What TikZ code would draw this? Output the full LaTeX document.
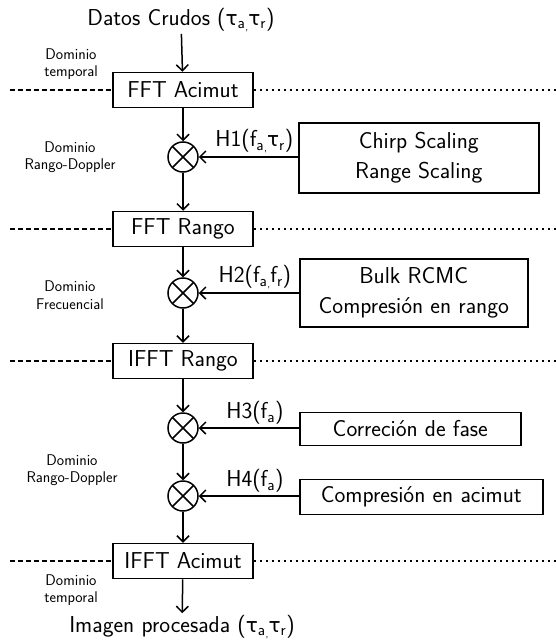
\documentclass[tikz,border=0pt]{standalone}
\usepackage{fontspec}
\newfontfamily\grk{DejaVu Sans}
\usetikzlibrary{arrows.meta}

% upright tau and small subscripts for the signal variables
\newcommand{\ta}{{\grk\fontsize{20}{22}\selectfont τ}}
\newcommand{\sbs}[1]{\textsubscript{#1}}
\newcommand{\cm}{\raisebox{-0.55ex}{\fontsize{11}{11}\selectfont ,}}

\begin{document}
\begin{tikzpicture}[x=1pt,y=-1pt,
  font=\sffamily\fontsize{23}{27}\selectfont,
  line width=1.5pt,
  >={Straight Barb[length=6pt,width=12pt]},
  blk/.style={draw,minimum width=140pt,minimum height=35pt,inner sep=0pt},
  opbox/.style={draw,anchor=west,align=center,inner sep=0pt},
  mult/.style={circle,draw,minimum size=30pt,inner sep=0pt,
    path picture={
      \draw (path picture bounding box.north west) -- (path picture bounding box.south east)
            (path picture bounding box.north east) -- (path picture bounding box.south west);}},
  dom/.style={align=center,font=\sffamily\fontsize{15.5}{17.5}\selectfont},
  lbl/.style={above,inner sep=3pt},
  leftsep/.style={line width=1.3pt,dash pattern=on 5pt off 3pt},
  rightsep/.style={line width=1.3pt,dash pattern=on 2.5pt off 3.5pt}
]
\useasboundingbox (0,0) rectangle (556,642);

% input and output
\node[inner sep=1pt] (in)  at (181,20)  {Datos Crudos (\ta\sbs{a}\cm\ta\sbs{r})};
\node[inner sep=1pt] (out) at (182,627) {Imagen procesada (\ta\sbs{a}\cm\ta\sbs{r})};

% transform blocks on the main chain
\node[blk] (fa)  at (183,90)  {FFT Acimut};
\node[blk] (fr)  at (183,229) {FFT Rango};
\node[blk] (ir)  at (183,361) {IFFT Rango};
\node[blk] (ia)  at (183,561) {IFFT Acimut};

% multipliers
\node[mult] (m1) at (183,157) {};
\node[mult] (m2) at (183,293) {};
\node[mult] (m3) at (183,428) {};
\node[mult] (m4) at (183,496) {};

% operations feeding the multipliers
\node[opbox,minimum width=240pt,minimum height=70pt] (h1) at (298,158)
  {Chirp Scaling\\[3pt]Range Scaling};
\node[opbox,minimum width=228pt,minimum height=68pt] (h2) at (299,293)
  {Bulk RCMC\\[3pt]Compresión en rango};
\node[opbox,minimum width=221pt,minimum height=33pt] (h3) at (299,429)
  {Correción de fase};
\node[opbox,minimum width=243pt,minimum height=35pt] (h4) at (299,497)
  {Compresión en acimut};

% main signal path
\draw[->] (in) -- (fa);
\draw[->] (fa) -- (m1);
\draw[->] (m1) -- (fr);
\draw[->] (fr) -- (m2);
\draw[->] (m2) -- (ir);
\draw[->] (ir) -- (m3);
\draw[->] (m3) -- (m4);
\draw[->] (m4) -- (ia);
\draw[->] (ia) -- (out);

% filter inputs
\draw[->] (m1 -| h1.west) -- node[lbl,pos=0.44] {H1(f\sbs{a}\cm\ta\sbs{r})} (m1);
\draw[->] (m2 -| h2.west) -- node[lbl,pos=0.44] {H2(f\sbs{a}\cm f\sbs{r})} (m2);
\draw[->] (m3 -| h3.west) -- node[lbl,pos=0.44] {H3(f\sbs{a})} (m3);
\draw[->] (m4 -| h4.west) -- node[lbl,pos=0.44] {H4(f\sbs{a})} (m4);

% domain boundaries
\coordinate (l1) at (10,90);   \coordinate (r1) at (556,90);
\coordinate (l2) at (10,229);  \coordinate (r2) at (556,229);
\coordinate (l3) at (10,361);  \coordinate (r3) at (556,361);
\coordinate (l4) at (10,561);  \coordinate (r4) at (556,561);
\draw[leftsep] (l1) -- (fa.west);  \draw[rightsep] (fa.east) -- (r1);
\draw[leftsep] (l2) -- (fr.west);  \draw[rightsep] (fr.east) -- (r2);
\draw[leftsep] (l3) -- (ir.west);  \draw[rightsep] (ir.east) -- (r3);
\draw[leftsep] (l4) -- (ia.west);  \draw[rightsep] (ia.east) -- (r4);

% domain labels
\node[dom] (d1) at (71,64)  {Dominio\\temporal};
\node[dom] (d2) at (70,157) {Dominio\\Rango-Doppler};
\node[dom] (d3) at (70,295) {Dominio\\Frecuencial};
\node[dom] (d4) at (72,470) {Dominio\\Rango-Doppler};
\node[dom] (d5) at (71,590) {Dominio\\temporal};
\end{tikzpicture}
\end{document}
